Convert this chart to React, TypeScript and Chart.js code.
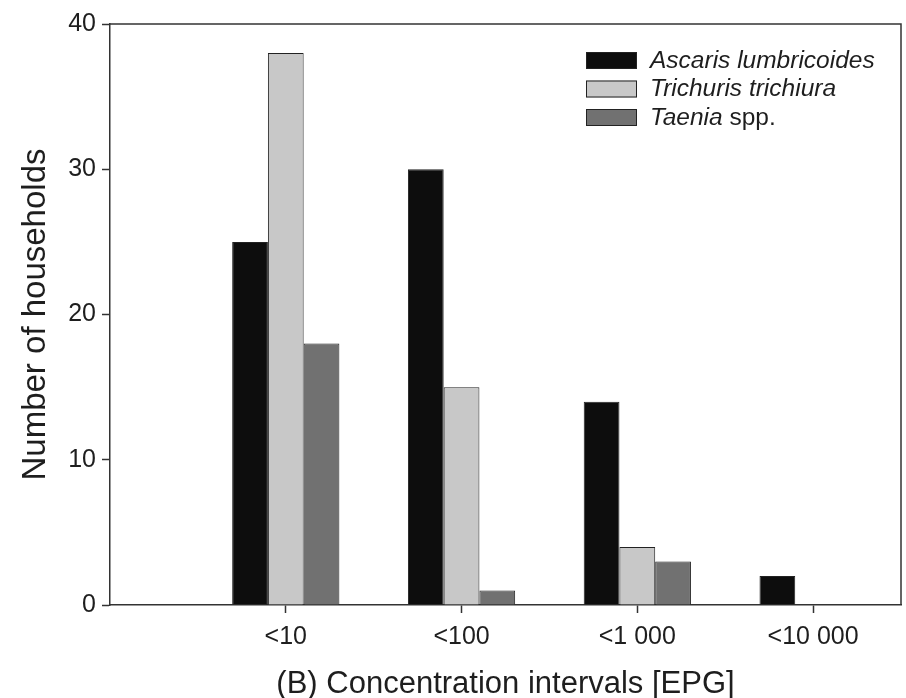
import React, { useEffect, useRef } from "react";
import { Chart, registerables } from "chart.js";

Chart.register(...registerables);

const categories = ["<10", "<100", "<1 000", "<10 000"];
const seriesNames = ["Ascaris lumbricoides", "Trichuris trichiura", "Taenia spp."];
const italicParts = ["Ascaris lumbricoides", "Trichuris trichiura", "Taenia"];
const ascaris = [25, 30, 14, 2];
const trichuris = [38, 15, 4, 0];
const taenia = [18, 1, 3, 0];
const yTicks = [0, 10, 20, 30, 40];
const xAxisTitle = "(B) Concentration intervals [EPG]";
const yAxisTitle = "Number of households";

const colors = ["#0d0d0d", "#c8c8c8", "#717171"];
const FONT = '"Liberation Sans", Arial, Helvetica, sans-serif';
const TEXT = "#1e1e1e";
const LINE = "#333333";

const legendPlugin = {
  id: "customLegend",
  afterDraw(chart: any) {
    const { ctx, chartArea } = chart;
    const x0 = chartArea.right - 315;
    chart.data.datasets.forEach((ds: any, i: number) => {
      const cy = chartArea.top + 36 + i * 28.5;
      ctx.save();
      ctx.fillStyle = ds.backgroundColor;
      ctx.fillRect(x0, cy - 8, 51, 17);
      ctx.strokeStyle = "#222";
      ctx.lineWidth = 1;
      ctx.strokeRect(x0 + 0.5, cy - 7.5, 50, 16);
      ctx.textBaseline = "middle";
      ctx.textAlign = "left";
      ctx.fillStyle = TEXT;
      const label: string = ds.label;
      const it = italicParts[i];
      ctx.font = `italic 24.5px ${FONT}`;
      ctx.fillText(it, x0 + 64, cy + 1);
      const w = ctx.measureText(it).width;
      const rest = label.slice(it.length);
      if (rest) {
        ctx.font = `24.5px ${FONT}`;
        ctx.fillText(rest, x0 + 64 + w, cy + 1);
      }
      ctx.restore();
    });
  },
};

const framePlugin = {
  id: "frame",
  afterDatasetsDraw(chart: any) {
    const { ctx, chartArea } = chart;
    ctx.save();
    ctx.strokeStyle = LINE;
    ctx.lineWidth = 1.5;
    ctx.beginPath();
    ctx.moveTo(chartArea.left, chartArea.top);
    ctx.lineTo(chartArea.right, chartArea.top);
    ctx.lineTo(chartArea.right, chartArea.bottom);
    ctx.stroke();
    ctx.restore();
  },
};

export default function App() {
  const ref = useRef<HTMLCanvasElement | null>(null);

  useEffect(() => {
    if (!ref.current) return;
    const series = [ascaris, trichuris, taenia];
    const chart = new Chart(ref.current, {
      type: "bar",
      data: {
        datasets: series.map((vals, si) => ({
          label: seriesNames[si],
          data: vals.map((v, i) => ({ x: i, y: v })),
          backgroundColor: colors[si],
          borderColor: "#222",
          borderWidth: 1,
          categoryPercentage: 0.61,
          barPercentage: 1.0,
        })),
      },
      options: {
        animation: false,
        responsive: true,
        maintainAspectRatio: false,
        layout: { padding: { left: 0, right: 5, top: 24, bottom: 0 } },
        plugins: {
          legend: { display: false },
          tooltip: { enabled: false },
        },
        scales: {
          x: {
            type: "linear",
            min: -1,
            max: 3.5,
            offset: false,
            afterBuildTicks: (axis: any) => {
              axis.ticks = categories.map((_, i) => ({ value: i }));
            },
            afterFit: (scale: any) => {
              scale.height = 93;
            },
            ticks: {
              callback: (v: any) => categories[v as number] ?? "",
              font: { family: FONT, size: 25 },
              color: TEXT,
              padding: 9,
              maxRotation: 0,
              autoSkip: false,
            },
            grid: {
              display: true,
              offset: false,
              drawOnChartArea: false,
              drawTicks: true,
              tickLength: 8,
              tickColor: LINE,
              tickWidth: 1.5,
            },
            border: { display: true, color: LINE, width: 1.5 },
            title: {
              display: true,
              text: xAxisTitle,
              font: { family: FONT, size: 31, lineHeight: 0.9 },
              color: TEXT,
              padding: { top: 0, bottom: 0 },
            },
          },
          y: {
            min: 0,
            max: 40,
            afterBuildTicks: (axis: any) => {
              axis.ticks = yTicks.map((v) => ({ value: v }));
            },
            afterFit: (scale: any) => {
              scale.width = 110;
            },
            ticks: {
              font: { family: FONT, size: 25 },
              color: TEXT,
              padding: 6,
            },
            grid: {
              display: true,
              drawOnChartArea: false,
              drawTicks: true,
              tickLength: 8,
              tickColor: LINE,
              tickWidth: 1.5,
            },
            border: { display: true, color: LINE, width: 1.5 },
            title: {
              display: true,
              text: yAxisTitle,
              font: { family: FONT, size: 33, lineHeight: 1 },
              color: TEXT,
              padding: { top: 19, bottom: 0 },
            },
          },
        },
      },
      plugins: [legendPlugin, framePlugin],
    } as any);
    return () => chart.destroy();
  }, []);

  return (
    <div
      style={{
        position: "fixed",
        left: 0,
        top: 0,
        width: 906,
        height: 698,
        background: "#ffffff",
      }}
    >
      <canvas ref={ref} />
    </div>
  );
}
